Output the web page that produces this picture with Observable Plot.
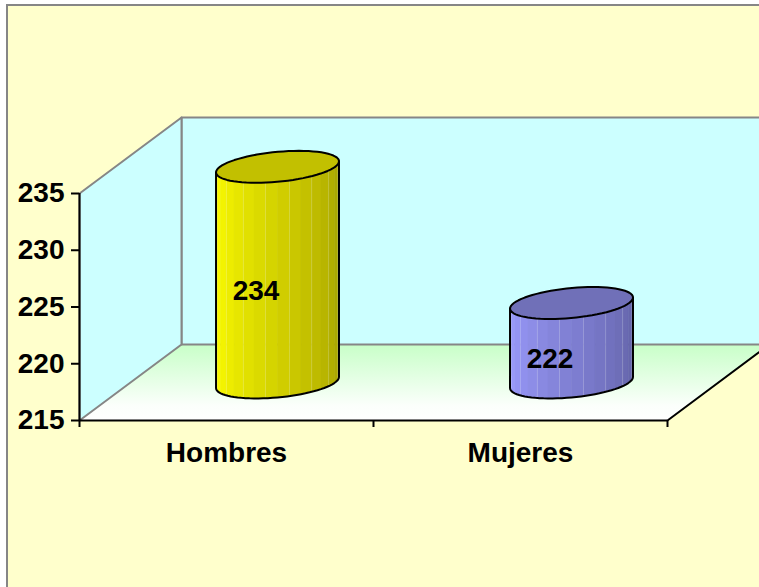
<!DOCTYPE html>
<html><head><meta charset="utf-8">
<script src="https://cdn.jsdelivr.net/npm/d3@7"></script>
<script src="https://cdn.jsdelivr.net/npm/@observablehq/plot@0.6"></script>
<style>
html,body{margin:0;padding:0;background:#fff;overflow:hidden;width:759px;height:587px;}
#frame{position:absolute;left:6px;top:4px;width:900px;height:800px;border:2px solid #868686;background:#FFFFCC;}
#chart{position:absolute;left:0;top:0;}
</style></head><body>
<div id="frame"></div><div id="chart"></div>
<script>
// ---- data ----
const categories = ["Hombres", "Mujeres"];
const values = [234, 222];
const yTicks = [215, 220, 225, 230, 235];
const yDomain = [215, 235];

// ---- styles ----
const bodyLight = ["#FFFF00", "#9C9CFF"];
const bodyDark = ["#A6A200", "#6262A6"];
const topFill = ["#C2C000", "#7070B8"];
const wallFill = "#CCFFFF";
const edgeGray = "#868686";
const FONT = 28;

// ---- 3D projection (depth expressed in data units) ----
const n = categories.length;
const DX = 0.347, DY = 6.7;   // full depth offset
const RX = 0.196, RD = 0.21;  // cylinder radius (x units, depth fraction)
const P = (x, y, z, g, c) => ({x: x + z * DX, y: y + z * DY, g, c});
const y0 = yDomain[0], y1 = yDomain[1];

const floor = [P(0, y0, 0, "f"), P(n, y0, 0, "f"), P(n, y0, 1, "f"), P(0, y0, 1, "f"), P(0, y0, 0, "f")];
const backWall = [P(0, y0, 1, "b"), P(n, y0, 1, "b"), P(n, y1, 1, "b"), P(0, y1, 1, "b"), P(0, y0, 1, "b")];
const sideWall = [P(0, y0, 0, "s"), P(0, y0, 1, "s"), P(0, y1, 1, "s"), P(0, y1, 0, "s"), P(0, y0, 0, "s")];
const floorRight = [P(n, y0, 0, "r"), P(n, y0, 1, "r")];

const th0 = Math.atan2(RD * DX, RX);
const cylPt = (i, v, th, g, c) => {
  const z = 0.5 + RD * Math.sin(th);
  return P(i + 0.5 + RX * Math.cos(th), v, z, g, c);
};
const NS = 16;
const slices = [], stripes = [], outlines = [], tops = [];
values.forEach((v, i) => {
  const interp = d3.interpolateRgb(bodyLight[i], bodyDark[i]);
  for (let k = 0; k < NS; k++) {
    const a = th0 + Math.PI + k * Math.PI / NS, b = a + Math.PI / NS;
    const g = `s${i}-${k}`, c = interp(k / (NS - 1));
    slices.push(cylPt(i, v, a, g, c), cylPt(i, v, b, g, c), cylPt(i, y0, b, g, c), cylPt(i, y0, a, g, c), cylPt(i, v, a, g, c));
    if (k > 0 && k % 2 === 1) stripes.push(cylPt(i, v, a, `l${i}-${k}`), cylPt(i, y0, a, `l${i}-${k}`));
  }
  const o = `o${i}`;
  outlines.push(cylPt(i, v, th0 + Math.PI, o));
  for (let k = 0; k <= 40; k++) outlines.push(cylPt(i, y0, th0 + Math.PI + k * Math.PI / 40, o));
  outlines.push(cylPt(i, v, th0 + 2 * Math.PI, o));
  for (let k = 0; k <= 72; k++) tops.push(cylPt(i, v, k * 2 * Math.PI / 72, `t${i}`, topFill[i]));
});

const labelZ = 0.5 - RD;

const chart = Plot.plot({
  width: 759, height: 587,
  marginLeft: 79, marginRight: 92, marginTop: 193, marginBottom: 167,
  x: {domain: [0, n], axis: null},
  y: {domain: yDomain, axis: null},
  color: {type: "identity"},
  style: {background: "transparent", fontFamily: "'Liberation Sans', Arial, sans-serif"},
  marks: [
    Plot.line(floor, {x: "x", y: "y", fill: "url(#floorGrad)", stroke: "none"}),
    Plot.line(backWall, {x: "x", y: "y", fill: wallFill, stroke: edgeGray, strokeWidth: 2}),
    Plot.line(sideWall, {x: "x", y: "y", fill: wallFill, stroke: edgeGray, strokeWidth: 2}),
    Plot.line(floorRight, {x: "x", y: "y", stroke: "black", strokeWidth: 2}),
    Plot.ruleY([y0], {x1: 0, x2: n, stroke: "black", strokeWidth: 2}),
    Plot.ruleX([0], {y1: y0, y2: y1, stroke: "black", strokeWidth: 2}),
    Plot.axisY({ticks: yTicks, tickSize: 8, tickPadding: 7, fontSize: FONT, fontWeight: "bold", label: null, strokeWidth: 2, stroke: "black", fill: "black"}),
    Plot.axisX({ticks: d3.range(n + 1), tickSize: 7, tickFormat: () => "", label: null, strokeWidth: 2, stroke: "black"}),
    Plot.axisX({ticks: categories.map((d, i) => i + 0.5), tickSize: 0, tickPadding: 22, tickFormat: t => categories[Math.floor(t)], fontSize: FONT, fontWeight: "bold", label: null, fill: "black"}),
    Plot.line(slices, {x: "x", y: "y", z: "g", fill: "c", stroke: "c", strokeWidth: 0.6}),
    Plot.line(stripes, {x: "x", y: "y", z: "g", stroke: "white", strokeOpacity: 0.2, strokeWidth: 1}),
    Plot.line(outlines, {x: "x", y: "y", z: "g", stroke: "black", strokeWidth: 2, fill: "none"}),
    Plot.line(tops, {x: "x", y: "y", z: "g", fill: "c", stroke: "black", strokeWidth: 2}),
    Plot.text(values, {
      x: (d, i) => i + 0.5 + labelZ * DX,
      y: d => (d + y0) / 2 + labelZ * DY,
      text: d => String(d),
      fontSize: FONT, fontWeight: "bold", fill: "black"
    })
  ]
});

const defs = d3.select(chart).insert("defs", ":first-child");
const grad = defs.append("linearGradient").attr("id", "floorGrad").attr("x1", 0).attr("y1", 0).attr("x2", 0).attr("y2", 1);
grad.append("stop").attr("offset", 0).attr("stop-color", "#C8FFC8");
grad.append("stop").attr("offset", 0.8).attr("stop-color", "#FBFFFB");
grad.append("stop").attr("offset", 1).attr("stop-color", "#FFFFFF");

document.getElementById("chart").appendChild(chart);
</script>
</body></html>
